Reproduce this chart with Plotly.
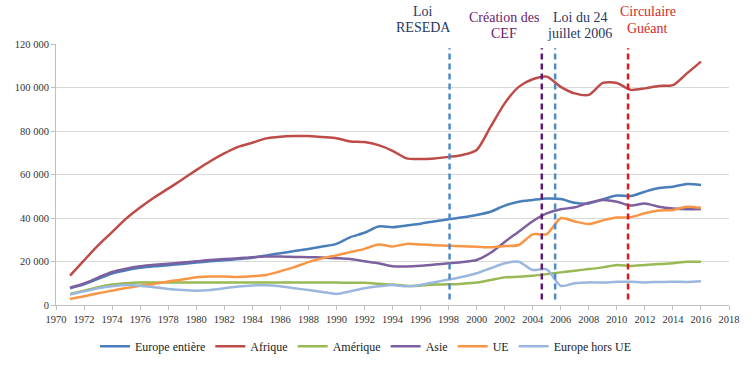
import plotly.graph_objects as go

years = list(range(1971, 2017))

europe_entiere = [7700, 9500, 12000, 14500, 16000, 17100, 17800, 18300, 18900, 19500,
                  20100, 20600, 21100, 21700, 22800, 23800, 24800, 25800, 26900, 28100,
                  31200, 33200, 36100, 35800, 36600, 37400, 38500, 39400, 40300, 41400,
                  42900, 45700, 47500, 48300, 49000, 48700, 47000, 46700, 48600, 50300,
                  50100, 52100, 53800, 54400, 55600, 55200]
afrique = [13500, 20500, 27400, 33500, 39700, 44800, 49400, 53500, 57700, 62000,
           66100, 69700, 72700, 74600, 76600, 77400, 77700, 77700, 77200, 76700,
           75200, 74900, 73500, 70900, 67400, 67100, 67400, 68100, 69000, 71300,
           82000, 92700, 100300, 103800, 105000, 100300, 97300, 96600, 102100, 102100,
           98900, 99600, 100700, 101100, 106500, 111900]
amerique = [5100, 6600, 8200, 9400, 10000, 10300, 10300, 10300, 10300, 10300,
            10300, 10300, 10300, 10300, 10300, 10300, 10300, 10300, 10300, 10300,
            10200, 10200, 9800, 9400, 8800, 8900, 9400, 9500, 9800, 10300,
            11500, 12700, 13000, 13500, 14200, 15000, 15800, 16500, 17300, 18400,
            17900, 18400, 18800, 19200, 19900, 19900]
asie = [7900, 9900, 12600, 15200, 16700, 17800, 18500, 19000, 19500, 20100,
        20700, 21100, 21500, 22000, 22300, 22300, 22100, 22000, 21800, 21500,
        21100, 20100, 19200, 17800, 17700, 18000, 18600, 19200, 19800, 20700,
        24000, 29000, 33700, 38500, 42100, 44000, 44900, 47000, 48300, 47500,
        45700, 46700, 45200, 44400, 44000, 44100]
ue = [2800, 4000, 5400, 6600, 7800, 8900, 9700, 10800, 11700, 12800,
      13100, 13100, 12900, 13200, 13800, 15500, 17400, 19700, 21500, 22800,
      24300, 25800, 27800, 26900, 28100, 27800, 27500, 27200, 27000, 26800,
      26500, 27100, 27600, 32500, 32600, 39900, 38400, 37200, 38900, 40200,
      40400, 42200, 43400, 43700, 45200, 44700]
europe_hors_ue = [4800, 6300, 7700, 8600, 9200, 8900, 8200, 7400, 6900, 6600,
                  6900, 7700, 8500, 9000, 9100, 8600, 7700, 6900, 6000, 5100,
                  6300, 7700, 8600, 9200, 8600, 9200, 10500, 11700, 13000, 14600,
                  16900, 19200, 19900, 16100, 16400, 8800, 10000, 10400, 10300, 10700,
                  10700, 10400, 10600, 10700, 10600, 10900]

series = [
    ("Europe entière", europe_entiere, "#4A7EBB"),
    ("Afrique", afrique, "#BE4B48"),
    ("Amérique", amerique, "#98B954"),
    ("Asie", asie, "#7D60A0"),
    ("UE", ue, "#F79646"),
    ("Europe hors UE", europe_hors_ue, "#9BB7DD"),
]

# event (law) dates and their labels, one text line per entry
events = [1998.07, 2004.65, 2005.6, 2010.8]
event_colors = ["#4F8AC4", "#5E1A6E", "#4F8AC4", "#E3191C"]
label_lines = [("Loi", "RESEDA"), ("Création des", "CEF"),
               ("Loi du 24", "juillet 2006"), ("Circulaire", "Guéant")]
label_colors = ["#1F3864", "#6A2170", "#1F3864", "#D42A2A"]
label_x = [1996.2, 2001.92, 2007.37, 2012.22]
label_y_top = [1.124, 1.100, 1.102, 1.126]
label_y_bot = [1.062, 1.042, 1.040, 1.060]

y_ticks = [0, 20000, 40000, 60000, 80000, 100000, 120000]
y_ticktext = ["0", "20 000", "40 000", "60 000", "80 000", "100 000", "120 000"]
x_ticks = list(range(1970, 2019, 2))

SERIF = "Times New Roman, Liberation Serif, serif"

fig = go.Figure()
for name, vals, col in series:
    fig.add_trace(go.Scatter(x=years, y=vals, name=name, mode="lines",
                             line=dict(color=col, width=2.5, shape="spline", smoothing=0.7)))

for ev, col in zip(events, event_colors):
    fig.add_shape(type="line", xref="x", yref="y", x0=ev, x1=ev, y0=2500, y1=118000,
                  line=dict(color=col, width=2.5, dash="6px,4px"))

for (l1, l2), col, lx, yt, yb in zip(label_lines, label_colors, label_x, label_y_top, label_y_bot):
    for txt, ly in ((l1, yt), (l2, yb)):
        fig.add_annotation(text=txt, x=lx, y=ly, xref="x", yref="paper", showarrow=False,
                           xanchor="center", yanchor="middle", borderpad=0,
                           font=dict(family=SERIF, size=14, color=col))

fig.update_layout(
    width=754, height=365,
    margin=dict(l=56, r=25, t=44, b=60, autoexpand=False),
    paper_bgcolor="white", plot_bgcolor="white",
    font=dict(family=SERIF, color="#404040"),
    showlegend=True,
    legend=dict(orientation="h", x=0.058, y=-0.158, xanchor="left", yanchor="middle",
                font=dict(family=SERIF, size=12, color="#1A1A1A"),
                itemwidth=30, tracegroupgap=0, bgcolor="rgba(0,0,0,0)"),
    xaxis=dict(range=[1970, 2018], tickvals=x_ticks, showgrid=False, automargin=False,
               showline=True, linecolor="#BFBFBF", linewidth=1,
               ticks="outside", ticklen=4, tickcolor="#BFBFBF",
               tickfont=dict(family=SERIF, size=10.5, color="#333333"),
               zeroline=False),
    yaxis=dict(range=[0, 120000], tickvals=y_ticks, ticktext=y_ticktext, automargin=False,
               showgrid=True, gridcolor="#D9D9D9", gridwidth=1,
               showline=True, linecolor="#BFBFBF", linewidth=1,
               ticks="outside", ticklen=4, tickcolor="#BFBFBF",
               tickfont=dict(family=SERIF, size=10.5, color="#333333"),
               zeroline=False),
)

fig.write_html("out.html", config={"displayModeBar": False},
               post_script="document.body.style.margin='0';")
